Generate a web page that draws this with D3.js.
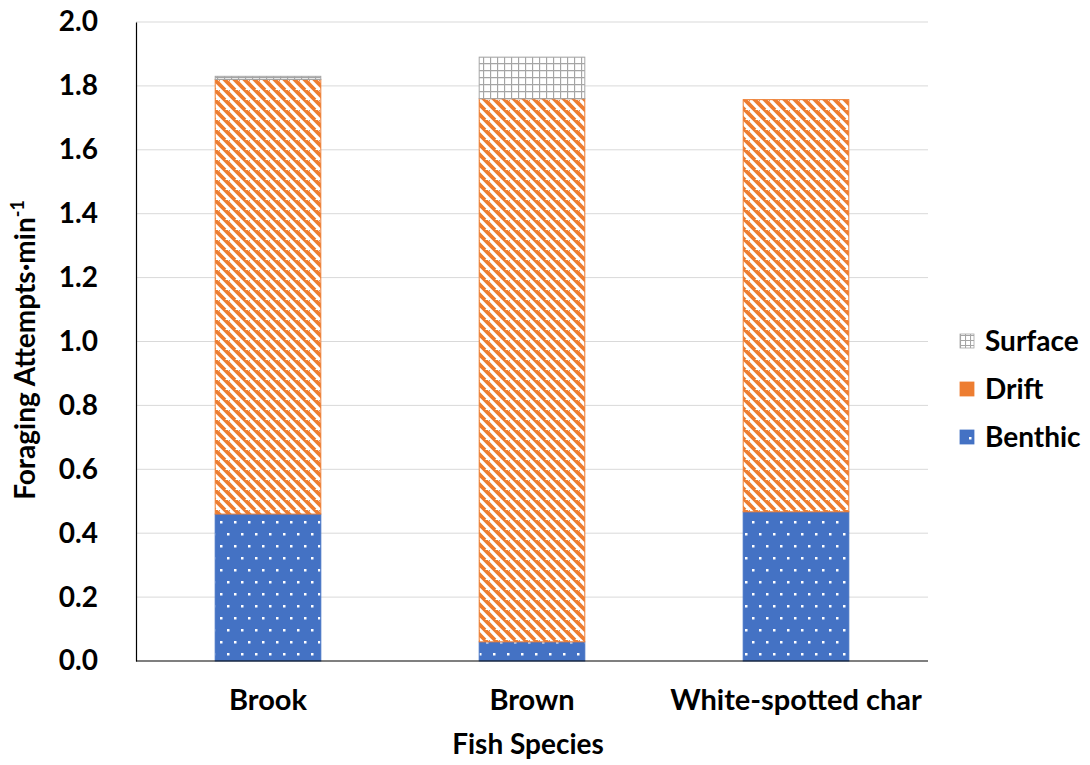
<!DOCTYPE html>
<html><head><meta charset="utf-8">
<script src="https://cdn.jsdelivr.net/npm/d3@7/dist/d3.min.js"></script>
<style>body{margin:0;background:#fff;} text{font-family:Lato, "Open Sans", sans-serif;font-weight:bold;}</style>
</head><body>
<svg id="c" width="1090" height="765"></svg>
<script>
const categories = ["Brook", "Brown", "White-spotted char"];
const benthic = [0.46, 0.06, 0.467];
const drift = [1.36, 1.70, 1.29];
const surface = [0.01, 0.13, 0.0];
const seriesNames = ["Benthic", "Drift", "Surface"];
const yTicks = [0, 0.2, 0.4, 0.6, 0.8, 1.0, 1.2, 1.4, 1.6, 1.8, 2.0];

const svg = d3.select("#c");
const m = {l:136, r:928, t:22, b:661};
const x = d3.scaleBand().domain(categories).range([m.l, m.r]).paddingInner(0.6).paddingOuter(0.3);
const y = d3.scaleLinear().domain([0, 2]).range([m.b, m.t]);
const FS = "28px";

const defs = svg.append("defs");
// drift stripes
const pd = defs.append("pattern").attr("id","pDrift").attr("patternUnits","userSpaceOnUse")
  .attr("width",10).attr("height",10);
pd.append("rect").attr("width",10).attr("height",10).attr("fill","#fff");
pd.append("path").attr("d","M-5,0 L5,10 M0,-5 L15,10 M5,-10 L20,15 M-10,5 L5,20").attr("stroke","#ED7D31").attr("stroke-width",3.8);
// benthic dots
const pb = defs.append("pattern").attr("id","pBenthic").attr("patternUnits","userSpaceOnUse")
  .attr("width",14).attr("height",24);
pb.append("rect").attr("width",14).attr("height",24).attr("fill","#4472C4");
pb.append("rect").attr("x",3).attr("y",5).attr("width",2.5).attr("height",2.5).attr("fill","#fff");
pb.append("rect").attr("x",10).attr("y",17).attr("width",2.5).attr("height",2.5).attr("fill","#fff");
// surface grid
const ps = defs.append("pattern").attr("id","pSurface").attr("patternUnits","userSpaceOnUse")
  .attr("width",7).attr("height",7);
ps.append("rect").attr("width",7).attr("height",7).attr("fill","#fff");
ps.append("path").attr("d","M0,0.5 H7 M0.5,0 V7").attr("stroke","#A5A5A5").attr("stroke-width",1.3);
const psl = defs.append("pattern").attr("id","pSurfaceLeg").attr("patternUnits","userSpaceOnUse")
  .attr("width",5).attr("height",5);
psl.append("rect").attr("width",5).attr("height",5).attr("fill","#fff");
psl.append("path").attr("d","M0,0.5 H5 M0.5,0 V5").attr("stroke","#A5A5A5").attr("stroke-width",1.1);

// gridlines
svg.append("g").selectAll("line").data(yTicks.filter(d=>d>0)).join("line")
  .attr("x1",m.l).attr("x2",m.r).attr("y1",d=>y(d)).attr("y2",d=>y(d))
  .attr("stroke","#D9D9D9").attr("stroke-width",1);

// stack
const data = categories.map((c,i)=>({cat:c, Benthic:benthic[i], Drift:drift[i], Surface:surface[i]}));
const stack = d3.stack().keys(seriesNames)(data);
const fills = {Benthic:"url(#pBenthic)", Drift:"url(#pDrift)", Surface:"url(#pSurface)"};
const strokes = {Benthic:"#4472C4", Drift:"#ED7D31", Surface:"#A5A5A5"};
svg.append("g").selectAll("g").data(stack).join("g")
  .each(function(s){
    d3.select(this).selectAll("rect").data(s.filter(d=>d[1]-d[0]>0)).join("rect")
      .attr("x",d=>x(d.data.cat)).attr("width",x.bandwidth())
      .attr("y",d=>y(d[1])).attr("height",d=>y(d[0])-y(d[1]))
      .attr("fill",fills[s.key]).attr("stroke",strokes[s.key]).attr("stroke-width",1);
  });

// axes
const ya = svg.append("g").attr("transform",`translate(${m.l},0)`)
  .call(d3.axisLeft(y).tickValues(yTicks).tickFormat(d3.format(".1f")).tickSize(0).tickPadding(38));
ya.select(".domain").attr("stroke","#000").attr("stroke-width",1.2);
ya.selectAll("text").style("font-size",FS).attr("fill","#000");
const xa = svg.append("g").attr("transform",`translate(0,${m.b})`)
  .call(d3.axisBottom(x).tickSize(0).tickPadding(28));
xa.select(".domain").attr("stroke","#000").attr("stroke-width",1.2).attr("d",`M${m.l},0H${m.r}`);
xa.selectAll("text").style("font-size","29px").attr("fill","#000");

// titles
svg.append("text").attr("x",528).attr("y",754).attr("text-anchor","middle")
  .style("font-size",FS).text("Fish Species");
const yt = svg.append("text").attr("transform","translate(35,350) rotate(-90)").attr("text-anchor","middle")
  .style("font-size",FS);
yt.append("tspan").text("Foraging Attempts·min");
yt.append("tspan").attr("dy",-11).style("font-size","18px").text("-1");

// legend
const leg = svg.append("g");
const legItems = ["Surface","Drift","Benthic"];
legItems.forEach((k,i)=>{
  const cy = 341 + i*48;
  leg.append("rect").attr("x",960).attr("y",cy-7).attr("width",14).attr("height",14)
    .attr("fill",k==="Drift"?"#ED7D31":(k==="Surface"?"url(#pSurfaceLeg)":fills[k])).attr("stroke",strokes[k]).attr("stroke-width",0.8);
  leg.append("text").attr("x",985).attr("y",cy+10).style("font-size",FS).text(k);
});
</script>
</body></html>
